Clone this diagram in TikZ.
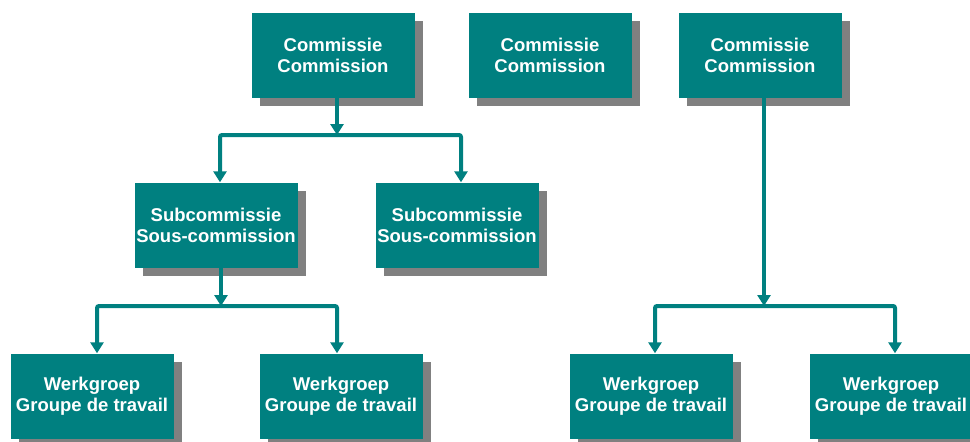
\documentclass[tikz,border=0pt]{standalone}
\usepackage{fontspec}
\setmainfont{Liberation Sans}
\usetikzlibrary{arrows.meta,shadows}
\definecolor{tealbox}{RGB}{0,128,128}
\definecolor{shadegray}{RGB}{128,128,128}
\begin{document}
\begin{tikzpicture}[x=1pt,y=-1pt,
  box/.style={fill=tealbox, text=white, font=\bfseries\fontsize{18.5}{21}\selectfont,
    align=center, minimum width=163pt, minimum height=85pt, inner sep=0pt,
    drop shadow={shadow xshift=8pt, shadow yshift=-8pt, fill=shadegray, opacity=1}},
  conn/.style={draw=tealbox, line width=4pt, rounded corners=2pt},
  arr/.style={conn, -{Triangle[width=13pt,length=11pt]}}]
\useasboundingbox (0,0) rectangle (970,442);
\clip (0,0) rectangle (970,442);
% boxes
\node[box] (C1) at (333,55) {Commissie\\Commission};
\node[box] (C2) at (550,55) {Commissie\\Commission};
\node[box] (C3) at (760,55) {Commissie\\Commission};
\node[box] (S1) at (216,225) {Subcommissie\\Sous-commission};
\node[box] (S2) at (457,225) {Subcommissie\\Sous-commission};
\node[box] (W1) at (92,396) {Werkgroep\\Groupe de travail};
\node[box] (W2) at (341,396) {Werkgroep\\Groupe de travail};
\node[box] (W3) at (651,396) {Werkgroep\\Groupe de travail};
\node[box] (W4) at (891,396) {Werkgroep\\Groupe de travail};
% junction coordinates
\coordinate (h1) at (337,135);
\coordinate (a1) at (220,135);
\coordinate (b1) at (461,135);
\coordinate (h2) at (221,306);
\coordinate (a2) at (97,306);
\coordinate (b2) at (337,306);
\coordinate (h3) at (764,306);
\coordinate (a3) at (655,306);
\coordinate (b3) at (895,306);
% connectors
\draw[arr] (C1.south -| h1) -- (h1);
\draw[arr] (h1) -- (a1) -- (a1 |- S1.north);
\draw[arr] (h1) -- (b1) -- (b1 |- S2.north);
\draw[arr] (S1.south -| h2) -- (h2);
\draw[arr] (h2) -- (a2) -- (a2 |- W1.north);
\draw[arr] (h2) -- (b2) -- (b2 |- W2.north);
\draw[arr] (C3.south -| h3) -- (h3);
\draw[arr] (h3) -- (a3) -- (a3 |- W3.north);
\draw[arr] (h3) -- (b3) -- (b3 |- W4.north);
\end{tikzpicture}
\end{document}
